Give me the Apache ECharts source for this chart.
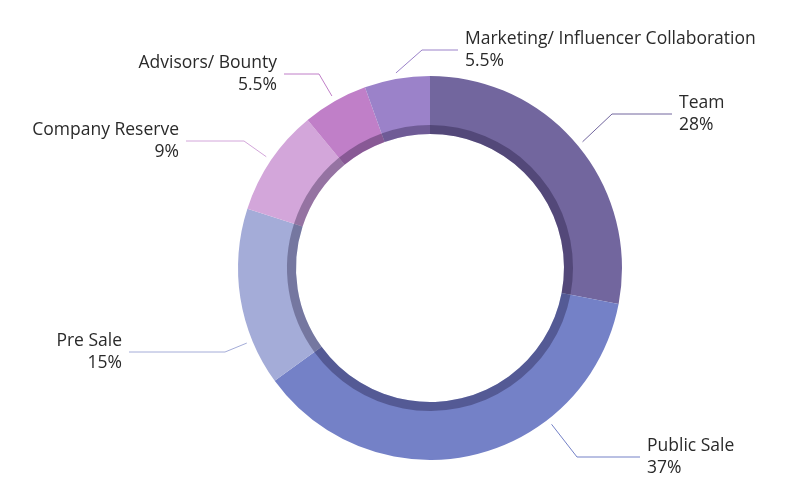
<!DOCTYPE html>
<html>
<head>
<meta charset="utf-8">
<script src="https://cdn.jsdelivr.net/npm/echarts@6/dist/echarts.min.js"></script>
<style>html,body{margin:0;padding:0;background:#fff}#c{width:800px;height:502px}</style>
</head>
<body>
<div id="c"></div>
<script>
// Data
const categories = ['Team', 'Public Sale', 'Pre Sale', 'Company Reserve', 'Advisors/ Bounty', 'Marketing/ Influencer Collaboration'];
const shares = [28, 37, 15, 9, 5.5, 5.5];

// Styling / layout config
const colors = ['#72669e', '#7481c7', '#a4acd8', '#d3a6da', '#c07fc8', '#9b82c9'];
const CX = 430, CY = 268, R_OUT = 192, R_IN = 134;
// label anchor (end of leader line), text side, horizontal leader length, leader start rule
const labelAnchors = [
  [672, 114, 'left', 60, 'mid'],
  [640, 457, 'left', 63, 'ray'],
  [129, 352, 'right', 96, 'ray'],
  [186, 141, 'right', 58, 'mid'],
  [284, 74, 'right', 35, 'mid'],
  [458, 50, 'left', 36, 'mid']
];

const chart = echarts.init(document.getElementById('c'), null, {renderer: 'canvas'});
const mainData = categories.map((n, i) => ({ name: n, value: shares[i], itemStyle: { color: colors[i] } }));
const ringData = categories.map((n, i) => ({ name: n, value: shares[i] }));

function pushOut(px, py, rad) {
  const dx = px - CX, dy = py - CY, d = Math.sqrt(dx * dx + dy * dy) || 1;
  return [CX + dx / d * rad, CY + dy / d * rad];
}

chart.setOption({
  animation: false,
  backgroundColor: '#fff',
  series: [
    {
      type: 'pie',
      center: [CX, CY],
      radius: [R_IN, R_OUT],
      startAngle: 90,
      clockwise: true,
      avoidLabelOverlap: false,
      itemStyle: { borderWidth: 0 },
      emphasis: { disabled: true },
      label: {
        show: true,
        formatter: '{b}\n{c}%',
        fontFamily: 'Open Sans',
        fontSize: 17.5,
        lineHeight: 22,
        color: '#2a2a2a',
        padding: [0, 7]
      },
      labelLine: { show: true, length: 20, length2: 60, smooth: false, lineStyle: { width: 1 } },
      labelLayout: function (params) {
        const a = labelAnchors[params.dataIndex];
        const p2 = [a[0], a[1]];
        const p1 = [a[2] === 'left' ? a[0] - a[3] : a[0] + a[3], a[1]];
        let p0;
        if (a[4] === 'ray') {
          p0 = pushOut(p1[0], p1[1], R_OUT + 6);
        } else {
          const d = params.labelLinePoints[0];
          p0 = pushOut(d[0], d[1], R_OUT + 6);
        }
        return { x: a[0], y: a[1], align: a[2], verticalAlign: 'middle', labelLinePoints: [p0, p1, p2] };
      },
      data: mainData
    },
    {
      type: 'pie',
      center: [CX, CY],
      radius: [R_IN, R_IN + 9],
      startAngle: 90,
      silent: true,
      label: { show: false },
      labelLine: { show: false },
      itemStyle: { color: 'rgba(20,10,45,0.32)', borderWidth: 0 },
      data: ringData
    }
  ]
});
</script>
</body>
</html>
